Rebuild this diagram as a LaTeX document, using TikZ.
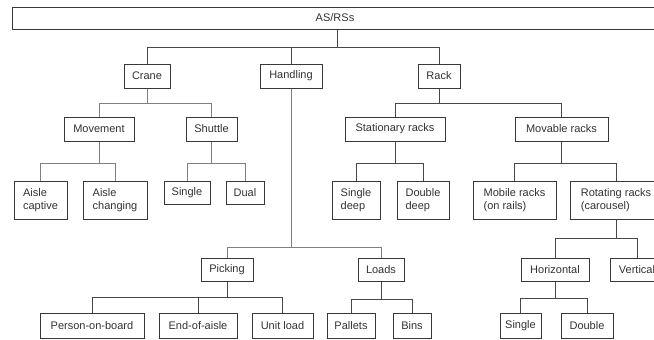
\documentclass[tikz,border=0pt]{standalone}
\usepackage{fontspec}
\setmainfont{Liberation Sans}
\begin{document}
\begin{tikzpicture}[x=1pt,y=-1pt,
  box/.style={draw=black!78, line width=1pt, fill=white, rectangle, inner sep=0pt, text=black!80,
    font=\fontsize{11}{13}\selectfont},
  mbox/.style={box, align=left},
  conn/.style={draw=black!72, line width=1pt},
  lconn/.style={draw=black!50, line width=1pt}]
\useasboundingbox (0,0) rectangle (654,340);
% level 0
\node[box, minimum width=646, minimum height=22] (root) at (335,18) {AS/RSs};
% level 1
\node[box, minimum width=46, minimum height=24] (crane) at (147,76) {Crane};
\node[box, minimum width=62, minimum height=24] (handling) at (291,76) {Handling};
\node[box, minimum width=42, minimum height=24] (rack) at (439,76) {Rack};
% level 2
\node[box, minimum width=70, minimum height=24] (movement) at (99,129) {Movement};
\node[box, minimum width=51, minimum height=24] (shuttle) at (211.5,129) {Shuttle};
\node[box, minimum width=100, minimum height=24] (stationary) at (395,129) {Stationary racks};
\node[box, minimum width=93, minimum height=24] (movable) at (561.5,129) {Movable racks};
% level 3
\node[box, minimum width=53, minimum height=38] (aislecap) at (40.5,200) {\begin{tabular}{@{}l@{}}Aisle\\captive\end{tabular}};
\node[box, minimum width=64, minimum height=38] (aislechg) at (115,200) {\begin{tabular}{@{}l@{}}Aisle\\changing\end{tabular}};
\node[box, minimum width=46, minimum height=23] (sglA) at (187,192.5) {Single};
\node[box, minimum width=38, minimum height=23] (dual) at (245,192.5) {Dual};
\node[box, minimum width=48, minimum height=38] (sdeep) at (356,200) {\begin{tabular}{@{}l@{}}Single\\deep\end{tabular}};
\node[box, minimum width=52, minimum height=38] (ddeep) at (423,200) {\begin{tabular}{@{}l@{}}Double\\deep\end{tabular}};
\node[box, minimum width=83, minimum height=38] (mobile) at (514.5,200) {\begin{tabular}{@{}l@{}}Mobile racks\\(on rails)\end{tabular}};
\node[box, minimum width=92, minimum height=38] (rotating) at (616,200) {\begin{tabular}{@{}l@{}}Rotating racks\\(carousel)\end{tabular}};
% level 4
\node[box, minimum width=52, minimum height=23] (picking) at (227,269.5) {Picking};
\node[box, minimum width=46, minimum height=23] (loads) at (381,269.5) {Loads};
\node[box, minimum width=68, minimum height=23] (horizontal) at (555,269.5) {Horizontal};
\node[box, minimum width=54, minimum height=23] (vertical) at (637,269.5) {Vertical};
% level 5
\node[box, minimum width=104, minimum height=25] (person) at (92,325.5) {Person-on-board};
\node[box, minimum width=78, minimum height=25] (endaisle) at (198,325.5) {End-of-aisle};
\node[box, minimum width=61, minimum height=25] (unitload) at (282.5,325.5) {Unit load};
\node[box, minimum width=48, minimum height=25] (pallets) at (351,325.5) {Pallets};
\node[box, minimum width=38, minimum height=25] (bins) at (412,325.5) {Bins};
\node[box, minimum width=41, minimum height=25] (sglB) at (520.5,325.5) {Single};
\node[box, minimum width=52, minimum height=25] (dblB) at (587,325.5) {Double};
% connectors
\coordinate (rj) at (337,47);
\draw[conn] (root.south -| rj) -- (rj);
\foreach \c in {crane,handling,rack}{\draw[conn] (\c.north) -- (\c.north |- rj);}
\draw[conn] (crane.north |- rj) -- (rack.north |- rj);
\newcommand\fork[4]{\foreach \c in {#3}{\draw[#4] (#1.south) -- (#1.south |- 0,#2) -| (\c.north);}}
\fork{crane}{103}{movement,shuttle}{lconn}
\fork{rack}{103}{stationary,movable}{conn}
\fork{movement}{163}{aislecap,aislechg}{lconn}
\fork{shuttle}{163}{sglA,dual}{lconn}
\fork{stationary}{163}{sdeep,ddeep}{conn}
\fork{movable}{163}{mobile,rotating}{conn}
\fork{handling}{247}{picking,loads}{lconn}
\fork{picking}{297}{person,endaisle,unitload}{conn}
\fork{loads}{299}{pallets,bins}{conn}
\fork{rotating}{238}{horizontal,vertical}{conn}
\fork{horizontal}{298}{sglB,dblB}{conn}
\end{tikzpicture}
\end{document}
